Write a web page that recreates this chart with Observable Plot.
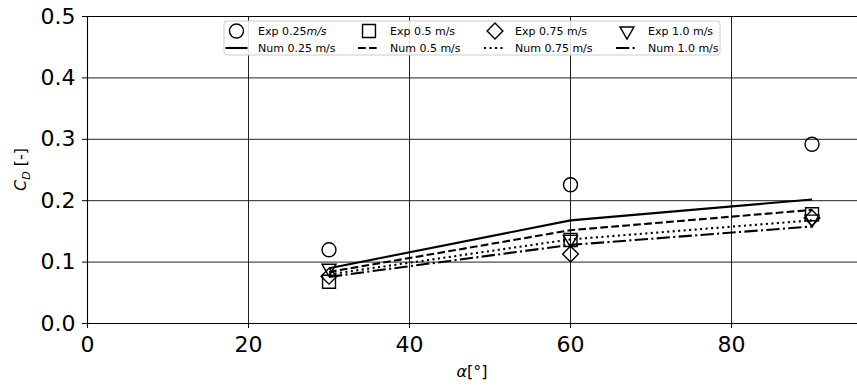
<!DOCTYPE html>
<html>
<head>
<meta charset="utf-8">
<script src="https://cdn.jsdelivr.net/npm/d3@7"></script>
<script src="https://cdn.jsdelivr.net/npm/@observablehq/plot@0.6"></script>
<style>
  html, body { margin: 0; padding: 0; background: #fff; }
  #chart svg { display: block; }
</style>
</head>
<body>
<div id="chart"></div>
<script>
// Angle of attack (deg)
const alpha = [30, 60, 90];
// Experimental drag coefficients
const exp025 = [0.120, 0.226, 0.292];
const exp05  = [0.068, 0.136, 0.178];
const exp075 = [0.077, 0.113, 0.172];
const exp10  = [0.090, 0.137, 0.170];
// Numerical drag coefficients
const num025 = [0.090, 0.168, 0.202];
const num05  = [0.084, 0.152, 0.185];
const num075 = [0.080, 0.137, 0.168];
const num10  = [0.076, 0.128, 0.158];

const xTicks = [0, 20, 40, 60, 80];
const yTicks = [0, 0.1, 0.2, 0.3, 0.4, 0.5];

const rows = (ys) => alpha.map((a, i) => ({alpha: a, cd: ys[i]}));

const dashes = {
  solid: null,
  dashed: "7.7,3.3",
  dotted: "2.1,3.4",
  dashdot: "13.3,3.3,2.1,3.3"
};

const lineOpts = (dash) => ({x: "alpha", y: "cd", stroke: "black", strokeWidth: 2.1, strokeDasharray: dash, strokeLinecap: "butt"});
const dotOpts = (symbol, r, rotate) => ({x: "alpha", y: "cd", symbol, r, rotate, stroke: "black", fill: "none", strokeWidth: 1.4});

const chart = Plot.plot({
  width: 857,
  height: 387,
  marginLeft: 87,
  marginRight: 0,
  marginTop: 16,
  marginBottom: 64,
  style: {fontFamily: "DejaVu Sans", background: "white", color: "black"},
  x: {domain: [0, 95.65]},
  y: {domain: [0, 0.5]},
  marks: [
    Plot.gridX(xTicks, {stroke: "#222", strokeOpacity: 1, strokeWidth: 1}),
    Plot.gridY(yTicks, {stroke: "#222", strokeOpacity: 1, strokeWidth: 1}),
    Plot.ruleX([0], {stroke: "black", strokeWidth: 1.1}),
    Plot.ruleY([0], {stroke: "black", strokeWidth: 1.1}),
    Plot.ruleY([0.5], {stroke: "black", strokeWidth: 1.1}),
    Plot.axisX(xTicks, {tickSize: 5, tickPadding: 8, fontSize: 22, label: null, tickFormat: d => String(d)}),
    Plot.axisY(yTicks, {tickSize: 5, tickPadding: 7, fontSize: 22, label: null, tickFormat: d => d.toFixed(1)}),
    Plot.line(rows(num025), lineOpts(dashes.solid)),
    Plot.line(rows(num05), lineOpts(dashes.dashed)),
    Plot.line(rows(num075), lineOpts(dashes.dotted)),
    Plot.line(rows(num10), lineOpts(dashes.dashdot)),
    Plot.dot(rows(exp025), dotOpts("circle", 7, 0)),
    Plot.dot(rows(exp05), dotOpts("square", 7.3, 0)),
    Plot.dot(rows(exp075), dotOpts("square", 6.3, 45)),
    Plot.dot(rows(exp10), dotOpts("triangle", 5.2, 180))
  ]
});

document.getElementById("chart").appendChild(chart);

const svg = d3.select(chart);

// Axis labels
const xl = svg.append("text")
  .attr("x", 472).attr("y", 377)
  .attr("text-anchor", "middle")
  .attr("font-size", 16).attr("font-family", "DejaVu Sans").attr("fill", "black");
xl.append("tspan").attr("font-style", "italic").text("α");
xl.append("tspan").text("[°]");

const yl = svg.append("text")
  .attr("transform", "translate(26,169.5) rotate(-90)")
  .attr("text-anchor", "middle")
  .attr("font-size", 16).attr("font-family", "DejaVu Sans").attr("fill", "black");
yl.append("tspan").attr("font-style", "italic").text("C");
yl.append("tspan").attr("font-style", "italic").attr("font-size", 11).attr("dy", 4).text("D");
yl.append("tspan").attr("dy", -4).text(" [-]");

// Legend
const lg = svg.append("g").attr("font-family", "DejaVu Sans").attr("font-size", 11).attr("text-anchor", "start");
lg.append("rect").attr("x", 224).attr("y", 21).attr("width", 496).attr("height", 34)
  .attr("rx", 3).attr("fill", "white").attr("fill-opacity", 0.85)
  .attr("stroke", "#cccccc").attr("stroke-width", 1);

const cols = [
  {cx: 236.5, tx: 258, sym: d3.symbolCircle, r: 7, rot: 0, exp: ["Exp 0.25", "m/s"], num: "Num 0.25 m/s", dash: dashes.solid},
  {cx: 369, tx: 390, sym: d3.symbolSquare, r: 7.3, rot: 0, exp: ["Exp 0.5 m/s"], num: "Num 0.5 m/s", dash: dashes.dashed},
  {cx: 495, tx: 515, sym: d3.symbolSquare, r: 6.3, rot: 45, exp: ["Exp 0.75 m/s"], num: "Num 0.75 m/s", dash: dashes.dotted},
  {cx: 627, tx: 648, sym: d3.symbolTriangle, r: 5.2, rot: 180, exp: ["Exp 1.0 m/s"], num: "Num 1.0 m/s", dash: dashes.dashdot}
];
for (const c of cols) {
  lg.append("path")
    .attr("d", d3.symbol(c.sym, Math.PI * c.r * c.r)())
    .attr("transform", `translate(${c.cx},31) rotate(${c.rot})`)
    .attr("fill", "none").attr("stroke", "black").attr("stroke-width", 1.4);
  const t = lg.append("text").attr("x", c.tx).attr("y", 35).attr("fill", "black").attr("text-anchor", "start");
  t.append("tspan").text(c.exp[0]);
  if (c.exp[1]) t.append("tspan").attr("font-style", "italic").text(c.exp[1]);
  lg.append("line")
    .attr("x1", c.cx - 11).attr("x2", c.cx + 11).attr("y1", 48).attr("y2", 48)
    .attr("stroke", "black").attr("stroke-width", 2.1)
    .attr("stroke-dasharray", c.dash);
  lg.append("text").attr("x", c.tx).attr("y", 52).attr("fill", "black").attr("text-anchor", "start").text(c.num);
}
</script>
</body>
</html>
